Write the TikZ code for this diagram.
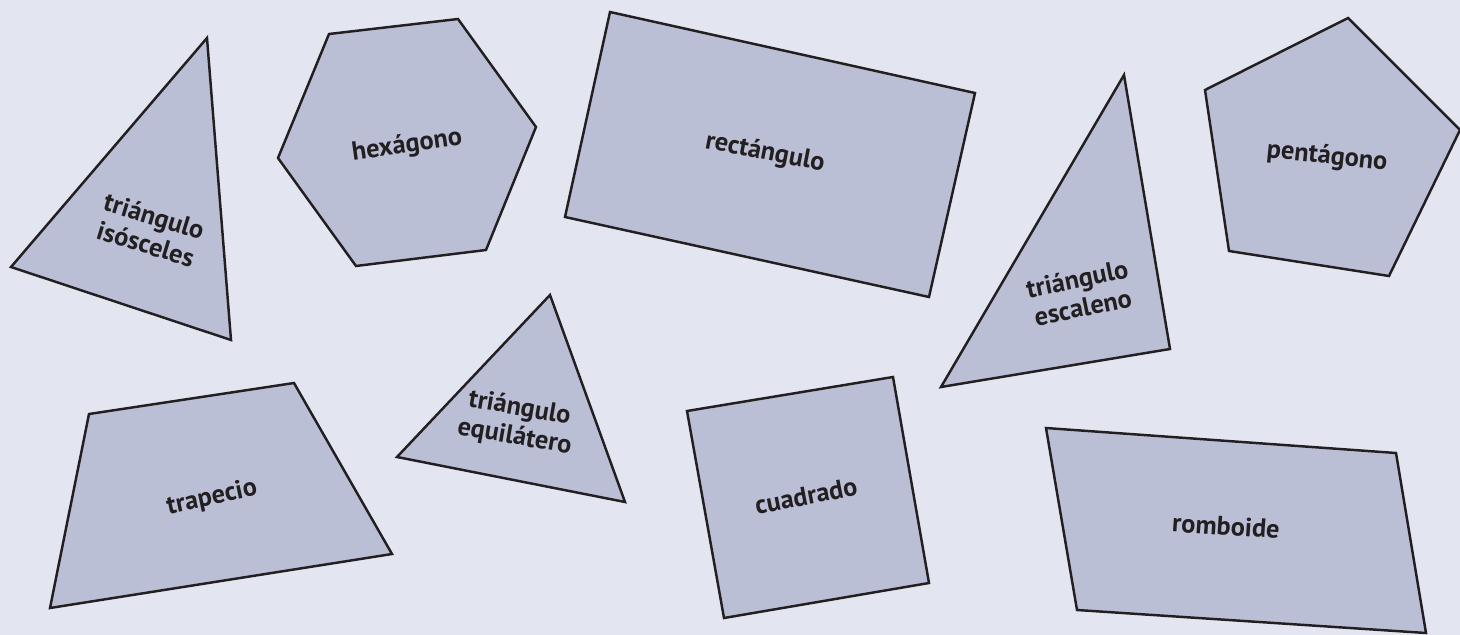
\documentclass[tikz,border=0pt]{standalone}
\usepackage{fontspec}
\setmainfont{PT Sans}
\definecolor{paper}{HTML}{E3E6F0}
\definecolor{shapefill}{HTML}{BABFD6}
\definecolor{ink}{HTML}{231F20}
\tikzset{
  figure/.style={fill=shapefill, draw=ink, line width=1.4pt, line join=miter},
  shapename/.style={font=\fontsize{15}{16.5}\selectfont\bfseries, text=ink, align=center, inner sep=0pt}
}

\begin{document}
\begin{tikzpicture}[x=0.02cm,y=-0.02cm]
\fill[paper] (0,0) rectangle (1460,635);
\useasboundingbox (0,0) rectangle (1460,635);

% top row
\draw[figure] (207,38) -- (11,267) -- (231,340) -- cycle;
\node[shapename, rotate=-17] (isosceles) at (150,230) {triángulo\\isósceles};

\draw[figure] (329,34) -- (458,19) -- (536,127) -- (486,250) -- (356,266) -- (278,158) -- cycle;
\node[shapename, rotate=8] (hexagono) at (407,146) {hexágono};

\draw[figure] (610,12) -- (975,93) -- (929,297) -- (565,217) -- cycle;
\node[shapename, rotate=-11] (rectangulo) at (765,153) {rectángulo};

\draw[figure] (1124,75) -- (941,387) -- (1170,349) -- cycle;
\node[shapename, rotate=11.5] (escaleno) at (1080,293) {triángulo\\escaleno};

\draw[figure] (1205,90) -- (1348,18) -- (1460,130) -- (1389,276) -- (1229,251) -- cycle;
\node[shapename, rotate=-6] (pentagono) at (1327,157) {pentágono};

% bottom row
\draw[figure] (89,414) -- (294,383) -- (392,554) -- (50,608) -- cycle;
\node[shapename, rotate=12] (trapecio) at (212,498) {trapecio};

\draw[figure] (550,295) -- (397,457) -- (625,502) -- cycle;
\node[shapename, rotate=-10] (equilatero) at (517,423) {triángulo\\equilátero};

\draw[figure] (687,411) -- (893,377) -- (929,583) -- (724,618) -- cycle;
\node[shapename, rotate=11] (cuadrado) at (806,496) {cuadrado};

\draw[figure] (1046,428) -- (1396,453) -- (1426,633) -- (1077,610) -- cycle;
\node[shapename, rotate=-4] (romboide) at (1226,526) {romboide};
\end{tikzpicture}
\end{document}
